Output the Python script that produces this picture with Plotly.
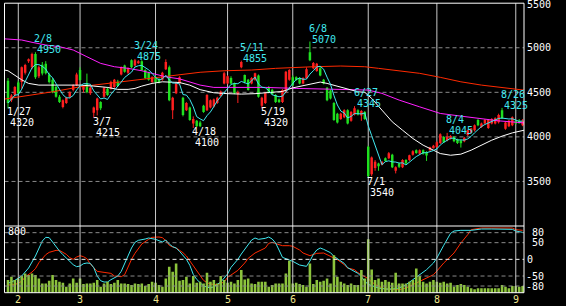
import plotly.graph_objects as go
import pandas as pd

W, H = 566, 306

# ---------------- data ----------------
open_ = [4630,4410,4470,4610,4615,4720,4850,4780,4930,4680,4810,4820,4700,4640,4560,4450,4335,4380,4450,4525,
         4580,4750,4530,4600,4490,4270,4300,4390,4450,4540,4540,4560,4620,4700,4800,4720,4860,4800,4830,4850,
         4750,4720,4615,4670,4650,4640,4760,4780,4300,4490,4600,4440,4300,4330,4150,4180,4160,4350,4300,4330,
         4340,4380,4460,4600,4600,4660,4600,4480,4780,4694,4640,4600,4640,4690,4350,4380,4560,4530,4470,4420,
         4390,4500,4640,4670,4670,4660,4600,4660,4950,4770,4740,4770,4640,4550,4520,4380,4260,4200,4220,4300,
         4180,4250,4300,4240,4280,3890,3580,3650,3700,3690,3760,3761,3800,3620,3700,3660,3740,3740,3800,3850,
         3810,3850,3830,3850,3880,3885,3930,4000,3960,3980,4000,3970,3960,3950,4020,4050,4075,4190,4110,4150,
         4100,4150,4150,4165,4300,4090,4120,4130,4180,4180,4130]
high = [4660,4480,4570,4630,4790,4820,4880,4945,4950,4800,4840,4850,4720,4660,4580,4470,4420,4450,4510,4590,
        4720,4780,4580,4710,4570,4340,4440,4400,4560,4560,4630,4650,4640,4790,4810,4780,4870,4875,4860,4860,
        4760,4730,4680,4690,4660,4730,4870,4800,4450,4620,4680,4450,4390,4340,4230,4190,4180,4360,4480,4420,
        4430,4450,4520,4730,4690,4680,4610,4520,4855,4700,4650,4670,4720,4700,4450,4500,4570,4540,4480,4430,
        4535,4740,4760,4690,4680,4670,4670,4780,5070,4840,4830,4790,4650,4560,4530,4390,4270,4270,4310,4310,
        4290,4345,4310,4300,4290,3900,3780,3740,3710,3730,3770,3830,3810,3670,3710,3750,3750,3800,3850,3860,
        3860,3860,3840,3890,3910,3950,4040,4010,4045,4020,4010,3980,3970,4000,4080,4100,4140,4200,4160,4200,
        4200,4210,4220,4260,4325,4170,4190,4230,4190,4200,4200]
low = [4320,4390,4450,4480,4540,4700,4830,4760,4650,4660,4690,4700,4600,4490,4440,4380,4320,4370,4430,4510,
       4570,4630,4500,4490,4470,4215,4240,4300,4440,4460,4530,4550,4560,4690,4720,4700,4770,4790,4820,4740,
       4650,4630,4600,4600,4600,4630,4750,4400,4200,4480,4590,4230,4290,4180,4100,4110,4110,4270,4290,4320,
       4330,4370,4450,4590,4590,4590,4480,4380,4770,4600,4520,4590,4630,4440,4320,4370,4490,4470,4380,4380,
       4380,4490,4630,4570,4630,4590,4590,4650,4850,4760,4730,4680,4590,4400,4420,4180,4150,4190,4210,4140,
       4170,4240,4240,4180,4190,3540,3560,3620,3620,3680,3720,3750,3650,3590,3650,3650,3690,3730,3790,3810,
       3800,3800,3730,3840,3870,3880,3920,3930,3950,3970,3940,3920,3880,3940,4010,4040,4060,4120,4100,4140,
       4090,4140,4140,4150,4200,4080,4110,4120,4140,4150,4120]
close = [4380,4465,4560,4490,4780,4806,4870,4930,4670,4780,4710,4715,4615,4500,4450,4390,4412,4440,4500,4580,
         4700,4637,4565,4500,4550,4330,4430,4320,4550,4470,4615,4640,4570,4780,4730,4770,4780,4860,4850,4750,
         4660,4640,4670,4615,4610,4720,4840,4410,4440,4610,4670,4245,4380,4190,4200,4120,4120,4280,4470,4410,
         4420,4440,4510,4715,4680,4600,4490,4500,4840,4615,4525,4660,4715,4450,4440,4490,4500,4480,4390,4390,
         4525,4730,4750,4580,4640,4600,4660,4760,4860,4830,4820,4690,4600,4410,4430,4190,4160,4260,4300,4150,
         4280,4320,4250,4290,4200,3560,3770,3720,3670,3720,3730,3817,3660,3660,3665,3740,3700,3795,3840,3820,
         3850,3810,3790,3885,3900,3940,4030,3940,4000,4010,3950,3930,3940,3990,4075,4095,4130,4130,4150,4190,
         4190,4200,4210,4245,4210,4160,4180,4220,4150,4160,4180]
volume = [151,191,151,171,199,231,211,231,211,171,111,111,143,211,151,131,119,72,111,171,
          119,171,103,111,111,119,151,72,111,131,103,119,151,111,111,103,92,111,103,111,
          80,103,131,119,92,72,171,310,251,350,143,151,191,111,199,119,131,111,239,131,
          151,111,199,151,119,131,111,151,271,159,171,111,103,131,131,131,72,92,111,111,
          111,231,382,111,119,103,92,72,350,103,151,131,143,171,111,450,191,131,111,92,
          111,92,92,271,171,641,279,151,171,131,151,131,119,239,111,111,111,131,151,291,
          199,131,111,131,151,131,119,131,111,119,72,92,103,92,72,52,40,52,52,52,
          52,52,52,52,92,72,52,80,80,72,80]

# moving averages: (trading-day index, price)
ma25 = [(-1,4750),(0,4742),(4,4640),(6,4600),(9,4581),(17,4581),(21,4581),(25,4570),(29,4555),(32,4533),
        (35,4533),(37,4544),(39,4570),(42,4600),(45,4618),(50,4610),(53,4580),(56,4530),(60,4495),(64,4485),
        (68,4480),(72,4485),(76,4495),(80,4510),(83,4550),(87,4580),(91,4615),(93,4600),(96,4570),(99,4540),
        (102,4506),(104,4500),(106,4432),(109,4300),(112,4169),(115,4075),(118,3982),(121,3907),(124,3851),
        (126,3813),(129,3794),(132,3806),(135,3851),(138,3907),(141,3963),(144,4008),(147,4045),(151,4080)]
ma75 = [(-1,5100),(4,5087),(7,5061),(11,5031),(15,5012),(19,4975),(23,4899),(27,4825),(31,4787),(35,4769),
        (39,4742),(42,4713),(46,4674),(50,4651),(56,4581),(60,4555),(75,4555),(84,4544),(99,4533),(105,4525),
        (109,4488),(114,4413),(120,4337),(126,4263),(132,4233),(138,4207),(143,4180),(151,4155)]
ma_long = [(-1,4424),(7,4469),(13,4506),(21,4562),(27,4590),(33,4618),(38,4649),(44,4674),(50,4705),(56,4725),
           (63,4742),(71,4750),(78,4769),(83,4780),(89,4787),(97,4795),(104,4787),(108,4769),(114,4742),
           (120,4713),(126,4668),(132,4618),(138,4581),(143,4555),(151,4522)]

# oscillator (lower panel), (index, value)
osc_k = [(0,-72),(2,-63),(4,-50),(6,-26),(8,10),(9,35),(10,55),(11,66),(12,65),(13,52),(14,38),(15,25),(16,14),
         (17,4),(18,-6),(19,-16),(20,-22),(21,-20),(22,-13),(23,-11),(24,-12),(25,-25),(26,-50),(27,-64),(28,-68),
         (29,-68),(30,-61),(32,-50),(33,-36),(34,-12),(35,12),(36,34),(37,51),(38,57),(40,61),(41,64),(43,60),
         (44,55),(45,52),(46,58),(47,46),(48,38),(49,34),(50,24),(51,12),(52,0),(53,-18),(54,-45),(55,-60),
         (56,-71),(57,-80),(59,-86),(60,-82),(62,-68),(64,-44),(65,-24),(67,0),(68,16),(70,42),(71,58),(72,64),
         (73,60),(75,63),(76,67),(77,61),(78,49),(79,28),(80,6),(82,-2),(83,-6),(85,-17),(87,-21),(88,-5),(89,15),
         (90,28),(91,34),(92,30),(93,25),(94,20),(95,9),(96,2),(98,-12),(99,-25),(101,-36),(102,-42),(103,-52),
         (104,-66),(105,-75),(106,-79),(108,-86),(110,-89),(112,-89),(114,-86),(116,-76),(118,-61),(120,-46),
         (122,-31),(124,-11),(125,4),(127,42),(128,62),(129,78),(130,85),(132,87),(135,87),(138,91),(141,91),
         (145,91),(147,90),(148,85),(150,81)]
osc_d = [(0,-77),(2,-76),(4,-66),(5,-53),(7,-38),(8,-28),(9,-10),(11,14),(12,21),(14,27),(15,27),(17,15),(18,5),
         (19,0),(20,7),(21,11),(22,8),(23,2),(24,-14),(25,-25),(26,-36),(28,-39),(30,-42),(31,-50),(33,-52),
         (34,-46),(35,-22),(36,0),(37,18),(38,34),(39,46),(41,60),(42,66),(44,67),(45,65),(46,56),(47,42),(48,37),
         (49,34),(50,27),(51,20),(52,10),(53,-5),(54,-20),(55,-35),(56,-51),(57,-63),(58,-70),(59,-74),(61,-76),
         (63,-68),(64,-54),(66,-41),(67,-33),(69,-11),(70,3),(72,19),(73,24),(75,34),(76,48),(77,51),(79,44),
         (80,41),(82,41),(83,39),(85,28),(86,19),(88,11),(89,14),(90,18),(92,19),(93,14),(95,4),(96,-1),(98,-16),
         (99,-26),(101,-31),(102,-40),(103,-46),(105,-58),(106,-68),(108,-81),(110,-89),(112,-91),(114,-91),
         (116,-86),(118,-76),(120,-66),(122,-56),(124,-46),(125,-35),(127,-11),(130,19),(132,49),(134,74),
         (135,89),(138,94),(142,94),(147,94),(148,89),(150,87)]

month_idx = [3, 21, 43, 64, 83, 105, 125, 148]
month_labels = ["2", "3", "4", "5", "6", "7", "8", "9"]
peak_idx = [8, 37, 68, 88, 101, 128, 144]
peak_date = ["2/8", "3/24", "5/11", "6/8", "6/27", "8/4", "8/26"]
trough_idx = [0, 25, 54, 74, 105]
trough_date = ["1/27", "3/7", "4/18", "5/19", "7/1"]
price_ticks = [5500, 5000, 4500, 4000, 3500]
osc_ticks = ["80", "50", "0", "-50", "-80"]
vol_max = 800

# ---------------- styling ----------------
FONT = "DejaVu Sans Mono"
UP, DOWN = "#ff2020", "#20e020"
CYAN = "#40e8f0"
n = len(close)
idx = list(range(n))

def fx(px):
    return px / W

def fy(py):
    return 1 - py / H

X_L, X_R = 4.5, 524.0
MAIN_T, MAIN_B = 3.2, 226.0
LOW_B = 292.7

fig = go.Figure()

# candle bodies
body_base = [min(o, c) for o, c in zip(open_, close)]
body_h = [max(abs(c - o), 9) for o, c in zip(open_, close)]
colors = [UP if c >= o else DOWN for o, c in zip(open_, close)]
fig.add_trace(go.Bar(x=idx, y=body_h, base=body_base, marker=dict(color=colors, line=dict(width=0)),
                     width=0.72, xaxis="x", yaxis="y", hoverinfo="skip"))
# wicks
for col in (UP, DOWN):
    wx, wy = [], []
    for i in idx:
        if colors[i] == col:
            wx += [i, i, None]
            wy += [low[i], high[i], None]
    fig.add_trace(go.Scatter(x=wx, y=wy, mode="lines", line=dict(color=col, width=1),
                             xaxis="x", yaxis="y", hoverinfo="skip"))

# moving averages
ma5 = pd.Series(close).rolling(5, min_periods=1).mean().tolist()
for pts, col in ((ma_long, "#ff2a00"), (ma75, "#ff20ff"), (ma25, "#ffffff")):
    fig.add_trace(go.Scatter(x=[p[0] for p in pts], y=[p[1] for p in pts], mode="lines",
                             line=dict(color=col, width=1), xaxis="x", yaxis="y", hoverinfo="skip"))
fig.add_trace(go.Scatter(x=idx, y=ma5, mode="lines", line=dict(color=CYAN, width=1),
                         xaxis="x", yaxis="y", hoverinfo="skip"))

# volume
fig.add_trace(go.Bar(x=idx, y=volume, marker=dict(color="#8cc43c", line=dict(width=0)), width=0.75,
                     xaxis="x2", yaxis="y3", hoverinfo="skip"))
# oscillator
for pts, col in ((osc_d, "#ff2a00"), (osc_k, CYAN)):
    fig.add_trace(go.Scatter(x=[p[0] for p in pts], y=[p[1] for p in pts], mode="lines",
                             line=dict(color=col, width=1), xaxis="x2", yaxis="y2", hoverinfo="skip"))

shapes = []
# horizontal dashed grid (main)
for p in price_ticks[1:]:
    shapes.append(dict(type="line", xref="paper", yref="y", x0=fx(X_L), x1=fx(X_R), y0=p, y1=p,
                       line=dict(color="#8a8a8a", width=1, dash="4px,3px"), layer="below"))
# lower grid
for t in osc_ticks:
    v = float(t)
    shapes.append(dict(type="line", xref="paper", yref="y2", x0=fx(X_L), x1=fx(X_R), y0=v, y1=v,
                       line=dict(color="#f0f0f0" if v == 0 else "#8a8a8a", width=1, dash="4px,3px"),
                       layer="above"))
# month lines
for m in month_idx:
    shapes.append(dict(type="line", xref="x", yref="paper", x0=m, x1=m, y0=fy(MAIN_B), y1=fy(MAIN_T),
                       line=dict(color="#c8c8c8", width=1), layer="below"))
    shapes.append(dict(type="line", xref="x", yref="paper", x0=m, x1=m, y0=fy(LOW_B), y1=fy(MAIN_B),
                       line=dict(color="#c8c8c8", width=1), layer="above"))
# frame
for (x0, y0, x1, y1) in ((X_L, MAIN_T, X_R, MAIN_T), (X_L, MAIN_B, X_R, MAIN_B), (X_L, LOW_B, X_R, LOW_B),
                         (X_L, MAIN_T, X_L, LOW_B), (X_R, MAIN_T, X_R, LOW_B)):
    shapes.append(dict(type="line", xref="paper", yref="paper", x0=fx(x0), x1=fx(x1), y0=fy(y0), y1=fy(y1),
                       line=dict(color="#ffffff", width=1), layer="above"))

ann = []
def txt(text, color, **kw):
    d = dict(text=text, showarrow=False, font=dict(family=FONT, size=10, color=color), borderpad=0)
    d.update(kw)
    ann.append(d)

for i, d in zip(peak_idx, peak_date):
    txt(d, CYAN, x=i, y=high[i], xref="x", yref="y", xanchor="left", yanchor="bottom", xshift=-2, yshift=7)
    txt(str(high[i]), CYAN, x=i, y=high[i], xref="x", yref="y", xanchor="left", yanchor="bottom", xshift=1, yshift=-4)
for i, d in zip(trough_idx, trough_date):
    txt(d, "#ffffff", x=i, y=low[i], xref="x", yref="y", xanchor="left", yanchor="top", xshift=-2, yshift=3)
    txt(str(low[i]), "#ffffff", x=i, y=low[i], xref="x", yref="y", xanchor="left", yanchor="top", xshift=1, yshift=-8)

for p in price_ticks:
    txt(str(p), "#ffffff", x=fx(526), y=p, xref="paper", yref="y", xanchor="left", yanchor="middle",
        yshift=(-1.5 if p == price_ticks[0] else 0))
osc_x = {"80": 530.5, "50": 530.5, "0": 525.5, "-50": 524.5, "-80": 524.5}
for t in osc_ticks:
    txt(t, "#ffffff", x=fx(osc_x[t]), y=float(t), xref="paper", yref="y2", xanchor="left", yanchor="middle")
txt(str(vol_max), "#ffffff", x=fx(7), y=fy(231), xref="paper", yref="paper", xanchor="left", yanchor="middle")
for m, lab in zip(month_idx, month_labels):
    txt(lab, "#f0e68c", x=m, y=fy(299), xref="x", yref="paper", xanchor="center", yanchor="middle")

xr = [-1.02, 150.4]
fig.update_layout(
    width=W, height=H, margin=dict(l=0, r=0, t=0, b=0),
    paper_bgcolor="#000000", plot_bgcolor="#000000", showlegend=False, barmode="overlay",
    xaxis=dict(domain=[fx(X_L), fx(X_R)], range=xr, visible=False, anchor="y"),
    xaxis2=dict(domain=[fx(X_L), fx(X_R)], range=xr, visible=False, anchor="y2", matches="x"),
    yaxis=dict(domain=[fy(MAIN_B), fy(MAIN_T)], range=[3000, 5500], visible=False, anchor="x"),
    yaxis2=dict(domain=[fy(LOW_B), fy(MAIN_B)], range=[-100, 100], visible=False, anchor="x2"),
    yaxis3=dict(domain=[fy(LOW_B), fy(MAIN_B)], range=[0, vol_max], visible=False, overlaying="y2", anchor="x2"),
    shapes=shapes, annotations=ann,
)

fig.write_html("out.html")
